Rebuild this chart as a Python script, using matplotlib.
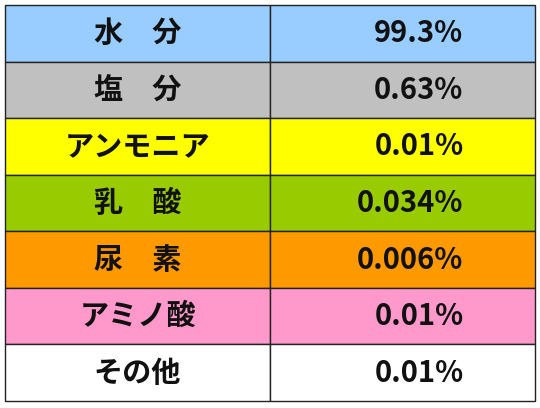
import matplotlib
matplotlib.use("Agg")
import matplotlib.pyplot as plt

plt.rcParams['font.family'] = ['Noto Sans CJK JP', 'DejaVu Sans']

# table contents
components = ["水　分", "塩　分", "アンモニア", "乳　酸", "尿　素", "アミノ酸", "その他"]
ratios = ["99.3%", "0.63%", "0.01%", "0.034%", "0.006%", "0.01%", "0.01%"]
row_colors = ["#99ccff", "#c0c0c0", "#ffff00", "#99cc00", "#ff9900", "#ff99cc", "#ffffff"]

W, H = 540, 408
fig = plt.figure(figsize=(W / 100, H / 100), dpi=100)
ax = fig.add_axes([0, 0, 1, 1])
ax.axis("off")

cells = [[c, r] for c, r in zip(components, ratios)]
colours = [[col, col] for col in row_colors]

left, right, top, bottom = 5 / W, 535 / W, 5 / H, 401 / H
tbl = ax.table(cellText=cells, cellColours=colours, cellLoc="center",
               bbox=[left, 1 - bottom, right - left, bottom - top])
tbl.auto_set_font_size(False)
for (r, c), cell in tbl.get_celld().items():
    cell.set_edgecolor("#222222")
    cell.set_linewidth(1.0)
    txt = cell.get_text()
    txt.set_fontsize(21)
    txt.set_fontweight("bold")
    txt.set_color("#111111")
    if c == 1:
        cell._loc = "right"
        cell.PAD = 0.27
        txt.set_horizontalalignment("right")

fig.savefig("out.png", dpi=100)
